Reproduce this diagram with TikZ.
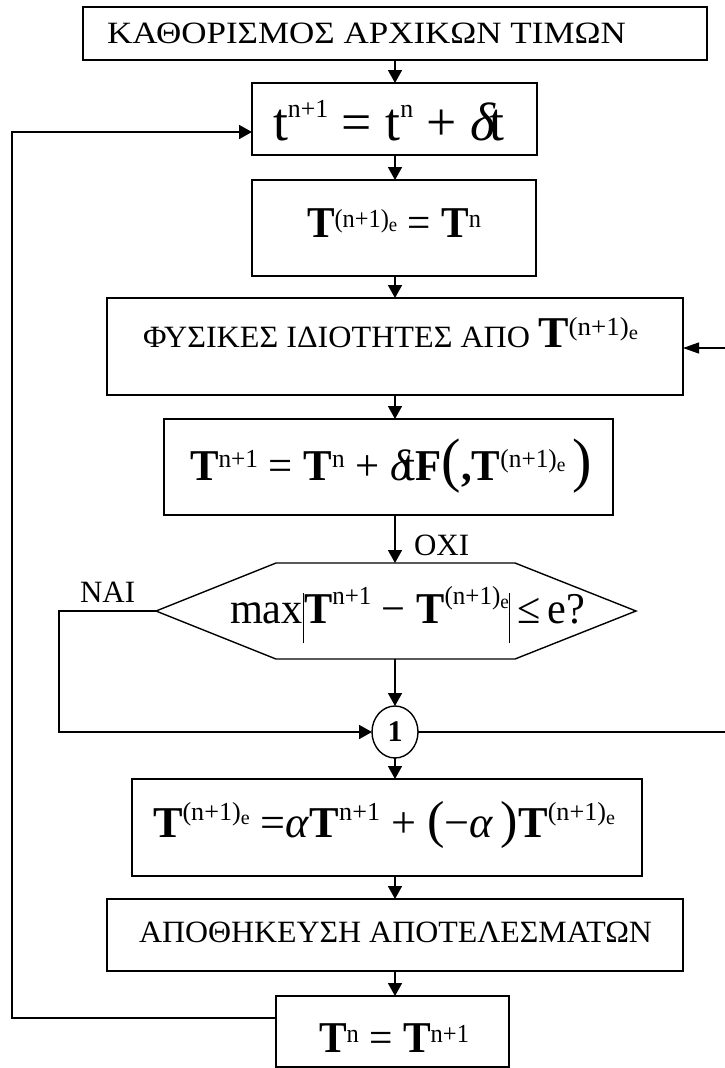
\documentclass[tikz,border=0pt]{standalone}
\usepackage{fontspec}
\setmainfont{Liberation Serif}
\usetikzlibrary{arrows.meta,shapes.geometric}
\newcommand{\fs}[1]{\fontsize{#1}{#1}\selectfont}
\newcommand{\Tbf}{\textbf{T}}
\newcommand{\sps}[2]{\raisebox{#1pt}{\fs{26}#2}}
\newcommand{\TE}[2]{\Tbf\raisebox{#1pt}{\fs{26}(n+1)}\raisebox{#2pt}{\fs{20}e}}
\newcommand{\vbar}{\rule[-20pt]{1.2pt}{50pt}}
\tikzset{
  box/.style={draw, line width=1.4pt, inner sep=0pt, outer sep=0pt},
  lbl/.style={inner sep=0pt, outer sep=0pt, anchor=base west},
  arr/.style={line width=1.7pt, -{Triangle[length=13pt,width=14pt]}},
  plain/.style={line width=1.7pt},
  arrthin/.style={line width=1.1pt, -{Triangle[length=16pt,width=11pt]}},
}
\begin{document}
\begin{tikzpicture}[x=1pt,y=-1pt]
\useasboundingbox (0,0) rectangle (725,1068);
\fill[white] (0,0) rectangle (725,1068);
% boxes
\node[box, minimum width=624pt, minimum height=53pt] (b1) at (395,33.5) {};
\node[box, minimum width=285pt, minimum height=72pt] (b2) at (394.5,119) {};
\node[box, minimum width=284pt, minimum height=96pt] (b3) at (394,228) {};
\node[box, minimum width=576pt, minimum height=97pt] (b4) at (395,346.5) {};
\node[box, minimum width=449pt, minimum height=96pt] (b5) at (388.5,467) {};
\node[box, minimum width=510pt, minimum height=97pt] (b6) at (387,827.5) {};
\node[box, minimum width=576pt, minimum height=72pt] (b7) at (395,935) {};
\node[box, minimum width=233pt, minimum height=71pt] (b8) at (392.5,1031.5) {};
\node[box, ellipse, minimum width=46pt, minimum height=52pt] (c1) at (395,732) {\fs{30}\textbf{1}};
% hexagon
\coordinate (hexW) at (156,611);
\coordinate (hexE) at (636,611);
\coordinate (hexN) at (395,563);
\coordinate (hexS) at (395,659);
\draw[line width=1.4pt] (hexW) -- (276,563) -- (515,563) -- (hexE) -- (515,659) -- (276,659) -- cycle;
% labels
\node[lbl] (t1) at (107,43) {\resizebox{519pt}{\height}{\fs{31}ΚΑΘΟΡΙΣΜΟΣ ΑΡΧΙΚΩΝ ΤΙΜΩΝ}};
\node[lbl] (t2) at (273,140) {\resizebox{231pt}{\height}{\fs{54}t\raisebox{23pt}{\fs{26}n+1}\ =\ t\raisebox{23pt}{\fs{26}n}\ +\ \textit{δ}\kern-7pt t}};
\node[lbl] (t3) at (307,237) {\resizebox{174pt}{\height}{\fs{44}\TE{10}{6}\ =\ \Tbf\sps{10}{n}}};
\node[lbl] (t4) at (143,347) {\resizebox{495pt}{\height}{\fs{31}ΦΥΣΙΚΕΣ ΙΔΙΟΤΗΤΕΣ ΑΠΟ \fs{44}\TE{12}{8}}};
\node[lbl] (t5) at (190,480) {\resizebox{402pt}{\height}{\fs{44}\Tbf\sps{13}{n+1}\ =\ \Tbf\sps{13}{n}\ +\ \textit{δ}\kern-7pt t\textbf{F}{\fs{60}(}\textbf{,}\TE{13}{9}\,{\fs{60})}}};
\node[lbl] (th) at (230,623) {\resizebox{355pt}{\height}{\fs{44}max\vbar\Tbf\sps{19}{n+1}\ −\ \TE{19}{15}\vbar\,≤\,e?}};
\node[lbl] (t6) at (153,837) {\resizebox{462pt}{\height}{\fs{44}\TE{17}{13}\ =\textit{α}\Tbf\sps{17}{n+1}\ +\ {\fs{52}(}−\textit{α}\,{\fs{52})}\TE{17}{13}}};
\node[lbl] (t7) at (139,942) {\resizebox{513pt}{\height}{\fs{31}ΑΠΟΘΗΚΕΥΣΗ ΑΠΟΤΕΛΕΣΜΑΤΩΝ}};
\node[lbl] (t8) at (319,1052) {\resizebox{150pt}{\height}{\fs{44}\Tbf\sps{10}{n}\ =\ \Tbf\sps{10}{n+1}}};
\node[lbl] (oxi) at (414,555) {\fs{31}ΟΧΙ};
\node[lbl] (nai) at (80,602) {\fs{31}ΝΑΙ};
% connectors
\coordinate (ax) at (395,0);
\draw[arr] (b1.south -| ax) -- (b2.north -| ax);
\draw[arr] (b2.south -| ax) -- (b3.north -| ax);
\draw[arr] (b3.south -| ax) -- (b4.north -| ax);
\draw[arr] (b4.south -| ax) -- (b5.north -| ax);
\draw[arr] (b5.south -| ax) -- (hexN);
\draw[arr] (hexS) -- (c1.north);
\draw[arr] (c1.south) -- (b6.north -| ax);
\draw[arr] (b6.south -| ax) -- (b7.north -| ax);
\draw[arr] (b7.south -| ax) -- (b8.north -| ax);
\coordinate (nl1) at (59,611);
\coordinate (nl2) at (59,732);
\draw[arr] (hexW) -- (nl1) -- (nl2) -- (c1.west);
\coordinate (lb) at (12,1018);
\coordinate (lt) at (12,132);
\draw[arr] (b8.west |- lb) -- (lb) -- (lt) -- (lt -| b2.west);
\coordinate (rc1) at (728,732);
\coordinate (rc2) at (728,348);
\draw[arrthin] (c1.east) -- (rc1) -- (rc2) -- (rc2 -| b4.east);
\end{tikzpicture}
\end{document}
